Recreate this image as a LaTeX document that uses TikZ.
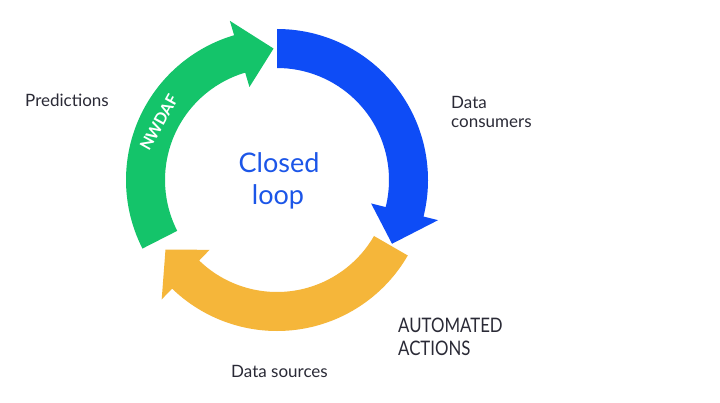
\documentclass[tikz,border=0pt]{standalone}
\usepackage{fontspec}
\setmainfont{Lato}
\newfontfamily\autofont[FakeStretch=0.84]{Lato}
\definecolor{loopgreen}{RGB}{20,196,106}
\definecolor{loopblue}{RGB}{14,76,246}
\definecolor{looporange}{RGB}{245,182,58}
\definecolor{titleblue}{RGB}{28,86,232}
\definecolor{labelgray}{RGB}{42,42,54}
\tikzset{
  lbl/.style={inner sep=0pt, anchor=base west, text=labelgray, font=\fontsize{17}{20}\selectfont},
  autolbl/.style={inner sep=0pt, anchor=base west, text=labelgray, font=\autofont\fontsize{20}{23}\selectfont},
  titlelbl/.style={inner sep=0pt, anchor=base, text=titleblue, font=\fontsize{27}{32}\selectfont},
}
% ring arrow: #1 colour, #2 tail angle, #3 head base angle, #4 tip angle
\newcommand{\ringarrowdraw}[4]{%
  \fill[#1] (#2:151pt) arc[start angle=#2, end angle=#3, radius=151pt]
    -- (#3:166pt) -- (#4:131.5pt) -- (#3:97pt) -- (#3:112pt)
    arc[start angle=#3, end angle=#2, radius=112pt] -- cycle;}
\begin{document}
\begin{tikzpicture}[x=1pt,y=1pt]
\path[use as bounding box, fill=white] (0,0) rectangle (720,402);
\begin{scope}[shift={(277,222)}]
  \ringarrowdraw{looporange}{-30}{-134}{-148}
  \ringarrowdraw{loopgreen}{207}{106.5}{91.5}
  \ringarrowdraw{loopblue}{90}{-14}{-29}
  \node[rotate=61, text=white, inner sep=0pt, font=\bfseries\fontsize{16}{18}\selectfont] (nwdaf) at (154:131.5) {NWDAF};
\end{scope}
\node[titlelbl] (closed) at (279,229) {Closed};
\node[titlelbl] (loop) at (278,197) {loop};
\node[lbl] (pred) at (25,295) {Predictions};
\node[lbl] (dc1) at (451,293) {Data};
\node[lbl] (dc2) at (451,274.7) {consumers};
\node[lbl] (ds) at (231,25) {Data sources};
\node[autolbl] (aa1) at (398,70) {AUTOMATED};
\node[autolbl] (aa2) at (398,47) {ACTIONS};
\end{tikzpicture}
\end{document}
